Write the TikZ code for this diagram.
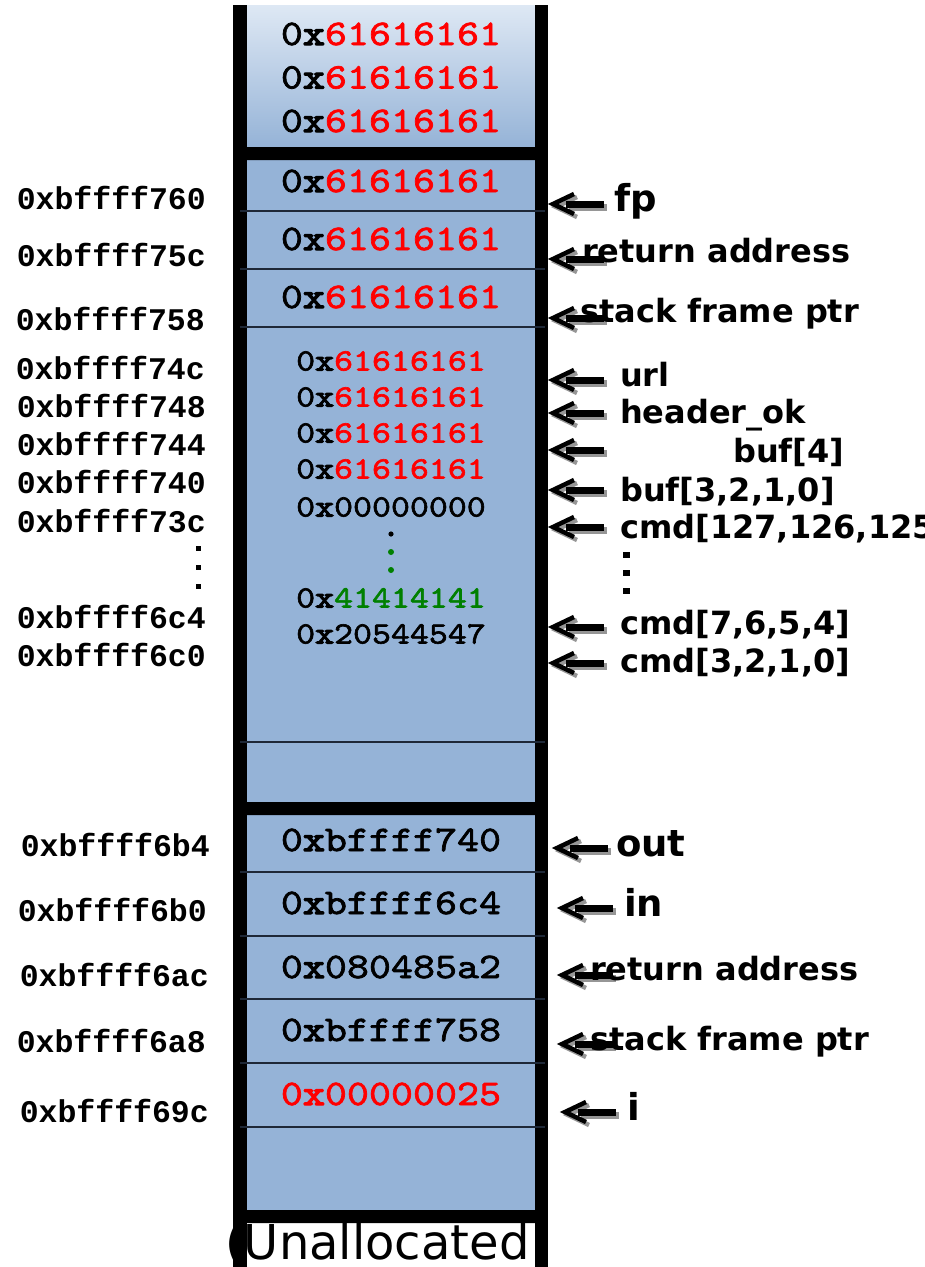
\documentclass[tikz,border=0pt]{standalone}
\usepackage{fontspec}
\newfontfamily\lblfont{DejaVu Sans}
\newfontfamily\addrfont{Liberation Mono}
\newfontfamily\valfont{lmmono10-regular.otf}[BoldFont=lmmono10-regular.otf,FakeStretch=1.165,FakeBold=2,BoldFeatures={FakeBold=3.8}]
\definecolor{cellblue}{RGB}{149,179,215}
\definecolor{celltop}{RGB}{222,232,244}
\definecolor{ruleink}{RGB}{30,40,55}
\definecolor{ptrshadow}{RGB}{150,150,150}
\definecolor{hexgreen}{RGB}{0,128,0}
% a hex word: plain 0, bold x, then the digits
\newcommand\hx[1]{0{\bfseries x}#1}
\tikzset{
  val/.style={font=\valfont\fontsize{36}{40}\selectfont, text height=22pt, text depth=0pt, inner sep=0pt},
  valsm/.style={font=\valfont\fontsize{31}{36}\selectfont, text height=19pt, text depth=0pt, inner sep=0pt},
  addr/.style={font=\addrfont\bfseries\fontsize{31.5}{36}\selectfont, anchor=east, text height=21pt, text depth=0pt, inner sep=0pt},
  ptrlabel/.style={font=\lblfont\bfseries\fontsize{32}{36}\selectfont, anchor=west, text height=23pt, text depth=0pt, inner sep=0pt},
  bigptrlabel/.style={ptrlabel, font=\lblfont\bfseries\fontsize{37}{40}\selectfont, text height=27pt},
  cellrule/.style={draw=ruleink, line width=2pt},
  pointer/.pic={
    \begin{scope}[shift={(3,3)}]
      \draw[ptrshadow, line width=4.5pt] (26,-10) -- (5,0) -- (26,10);
      \fill[ptrshadow] (18,-3.5) rectangle (56,3.5);
    \end{scope}
    \draw[black, line width=4.5pt] (26,-10) -- (5,0) -- (26,10);
    \fill[black] (18,-3.5) rectangle (56,3.5);
  }
}
\begin{document}
\begin{tikzpicture}[x=1pt,y=-1pt]
\clip (0,0) rectangle (925,1267);

% stack column body
\fill[cellblue] (247,147) rectangle (535,1210);
\fill[top color=celltop, bottom color=cellblue] (247,5) rectangle (535,147);

% label of the unallocated area (partly under the side bars)
\node[font=\lblfont\fontsize{48}{52}\selectfont, anchor=base west, inner sep=0pt] (unalloc) at (225,1259) {(Unallocated};

% side walls
\fill (233,5) rectangle (247,1267);
\fill (535,5) rectangle (548,1267);

% frame boundaries
\foreach \y in {147,802,1210}
  \fill (239,\y+6.5) -- (246,\y) -- (537,\y) -- (544,\y+6.5) -- (537,\y+13) -- (246,\y+13) -- cycle;

% word boundaries
\foreach \y in {211,269,327,742,872,936,999,1063,1127}
  \draw[cellrule] (240,\y) -- (545,\y);

% words above the frame
\node[val] (w1) at (391,34) {\hx{\textcolor{red}{61616161}}};
\node[val] (w2) at (391,77.5) {\hx{\textcolor{red}{61616161}}};
\node[val] (w3) at (391,121) {\hx{\textcolor{red}{61616161}}};

% saved fp, return address, frame pointer
\node[val] (w4) at (391,181) {\hx{\textcolor{red}{61616161}}};
\node[val] (w5) at (391,239) {\hx{\textcolor{red}{61616161}}};
\node[val] (w6) at (391,297) {\hx{\textcolor{red}{61616161}}};

% locals
\node[valsm] (l1) at (391,361) {\hx{\textcolor{red}{61616161}}};
\node[valsm] (l2) at (391,397) {\hx{\textcolor{red}{61616161}}};
\node[valsm] (l3) at (391,433) {\hx{\textcolor{red}{61616161}}};
\node[valsm] (l4) at (391,469) {\hx{\textcolor{red}{61616161}}};
\node[valsm] (l5) at (391,507) {\hx{00000000}};
\fill (391,534) circle (2.6);
\fill[hexgreen] (391,552) circle (3);
\fill[hexgreen] (391,570) circle (3);
\node[valsm] (l6) at (391,598) {\hx{\textcolor{hexgreen}{41414141}}};
\node[valsm] (l7) at (391,634) {\hx{20544547}};

% callee frame
\node[val] (c1) at (391,840) {\hx{bffff740}};
\node[val] (c2) at (391,903) {\hx{bffff6c4}};
\node[val] (c3) at (391,967) {\hx{080485a2}};
\node[val] (c4) at (391,1030) {\hx{bffff758}};
\node[val, text=red] (c5) at (391,1094) {\hx{00000025}};

% addresses
\node[addr] (a760) at (206,199) {0xbffff760};
\node[addr] (a75c) at (206,256) {0xbffff75c};
\node[addr] (a758) at (205,320) {0xbffff758};
\node[addr] (a74c) at (205,369) {0xbffff74c};
\node[addr] (a748) at (206,407) {0xbffff748};
\node[addr] (a744) at (206,445) {0xbffff744};
\node[addr] (a740) at (206,483) {0xbffff740};
\node[addr] (a73c) at (206,522) {0xbffff73c};
\foreach \y in {548,567,586} \fill (196,\y-2.5) rectangle (201,\y+2.5);
\node[addr] (a6c4) at (206,618) {0xbffff6c4};
\node[addr] (a6c0) at (206,656) {0xbffff6c0};
\node[addr] (a6b4) at (210,846) {0xbffff6b4};
\node[addr] (a6b0) at (207,911) {0xbffff6b0};
\node[addr] (a6ac) at (209,976) {0xbffff6ac};
\node[addr] (a6a8) at (206,1042) {0xbffff6a8};
\node[addr] (a69c) at (209,1112) {0xbffff69c};

% pointers
\coordinate (p-fp) at (548,204);
\coordinate (p-ret1) at (548,259);
\coordinate (p-sfp1) at (548,318);
\coordinate (p-url) at (548,380);
\coordinate (p-hdr) at (548,413);
\coordinate (p-buf4) at (548,450);
\coordinate (p-buf3) at (548,490);
\coordinate (p-cmdhi) at (548,527);
\coordinate (p-cmd7) at (548,627);
\coordinate (p-cmd3) at (548,663);
\coordinate (p-out) at (552,848);
\coordinate (p-in) at (557,908);
\coordinate (p-ret2) at (557,975);
\coordinate (p-sfp2) at (557,1044);
\coordinate (p-i) at (560,1112);
\foreach \p in {fp,ret1,sfp1,url,hdr,buf4,buf3,cmdhi,cmd7,cmd3,out,in,ret2,sfp2,i}
  \pic at (p-\p) {pointer};
\foreach \y in {555,573,591} \fill (623,\y-3) rectangle (630,\y+3);

% pointer labels
\node[bigptrlabel] (fp) at (614,198) {fp};
\node[ptrlabel] (ret1) at (582,251) {return address};
\node[ptrlabel] (sfp1) at (580,311) {stack frame ptr};
\node[ptrlabel] (url) at (620,375) {url};
\node[ptrlabel] (hdr) at (620,412) {header\_ok};
\node[ptrlabel] (buf4) at (733,451) {buf[4]};
\node[ptrlabel] (buf3) at (620,490) {buf[3,2,1,0]};
\node[ptrlabel] (cmdhi) at (620,527) {cmd[127,126,125};
\node[ptrlabel] (cmd7) at (620,623) {cmd[7,6,5,4]};
\node[ptrlabel] (cmd3) at (620,661) {cmd[3,2,1,0]};
\node[bigptrlabel] (out) at (616,843) {out};
\node[bigptrlabel] (in) at (624,903) {in};
\node[ptrlabel] (ret2) at (590,969) {return address};
\node[ptrlabel] (sfp2) at (590,1039) {stack frame ptr};
\node[bigptrlabel] (ivar) at (627,1107) {i};
\end{tikzpicture}
\end{document}
